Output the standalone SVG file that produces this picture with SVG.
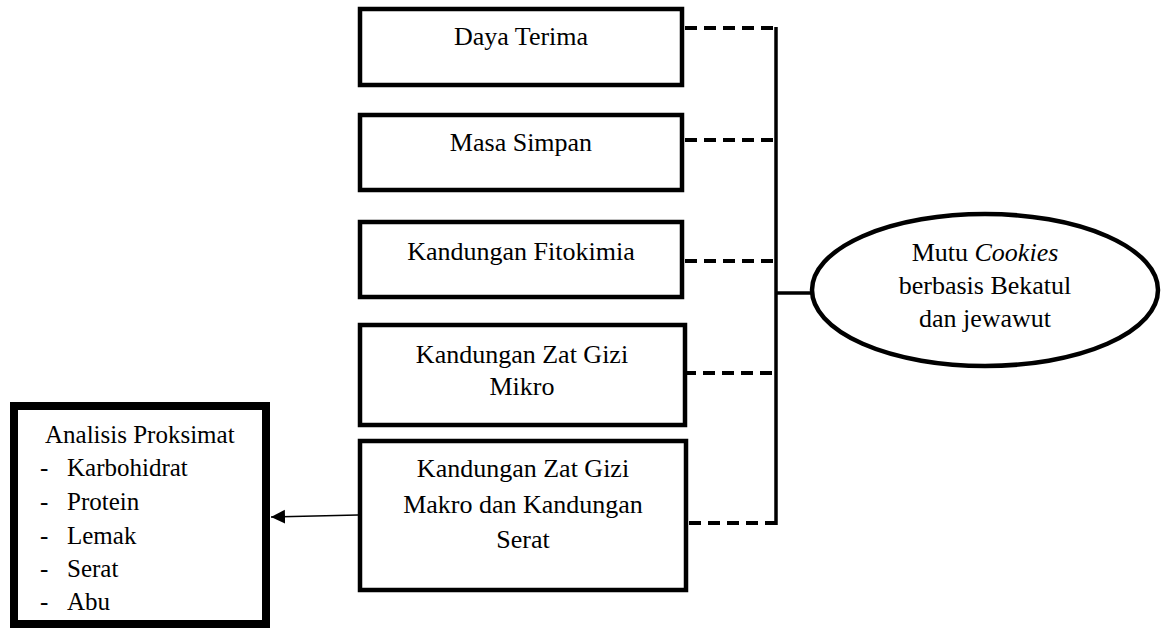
<svg xmlns="http://www.w3.org/2000/svg" width="1167" height="629" viewBox="0 0 1167 629">
<style>
.box{fill:#fff;stroke:#000;stroke-width:4.5}
.lb{fill:#fff;stroke:#000;stroke-width:8}
.t{font-size:26px;fill:#000;text-anchor:middle}
.ts{font-size:25px;fill:#000}
.dash{stroke:#000;stroke-width:4;stroke-dasharray:12 7;fill:none}
.solid{stroke:#000;stroke-width:3.5;fill:none}
</style>
<defs>
<marker id="ah" viewBox="0 0 10 10" refX="10" refY="5" markerWidth="14" markerHeight="15" markerUnits="userSpaceOnUse" orient="auto">
<path d="M0,0 L10,5 L0,10 z" fill="#000"/>
</marker>
</defs>
<g id="connectors">
<line class="solid" x1="776" y1="27" x2="776" y2="525"/>
<line class="solid" x1="776" y1="293" x2="812" y2="293"/>
<line class="dash" x1="685" y1="28" x2="776" y2="28"/>
<line class="dash" x1="685" y1="140" x2="776" y2="140"/>
<line class="dash" x1="685" y1="261" x2="776" y2="261"/>
<line class="dash" x1="684" y1="373" x2="776" y2="373"/>
<line class="dash" x1="689" y1="523" x2="776" y2="523"/>
<line x1="358" y1="515" x2="271" y2="517" stroke="#000" stroke-width="1.6" marker-end="url(#ah)"/>
</g>
<g font-family="'Liberation Serif', 'Times New Roman', Times, serif">
<g id="n1">
<rect class="box" x="360" y="9" width="322" height="76"/>
<text class="t" x="521" y="45">Daya Terima</text>
</g>
<g id="n2">
<rect class="box" x="360" y="115" width="322" height="75"/>
<text class="t" x="521" y="151">Masa Simpan</text>
</g>
<g id="n3">
<rect class="box" x="360" y="222" width="322" height="75"/>
<text class="t" x="521" y="260">Kandungan Fitokimia</text>
</g>
<g id="n4">
<rect class="box" x="360" y="325" width="325" height="100"/>
<text class="t" x="522" y="363">Kandungan Zat Gizi</text>
<text class="t" x="522" y="395">Mikro</text>
</g>
<g id="n5">
<rect class="box" x="360" y="441" width="326" height="149"/>
<text class="t" x="523" y="477">Kandungan Zat Gizi</text>
<text class="t" x="523" y="513">Makro dan Kandungan</text>
<text class="t" x="523" y="548">Serat</text>
</g>
<g id="n6">
<ellipse cx="985" cy="290" rx="173" ry="76" fill="#fff" stroke="#000" stroke-width="4.5"/>
<text class="t" x="985" y="261" font-size="25">Mutu <tspan font-style="italic">Cookies</tspan></text>
<text class="t" x="985" y="294" font-size="25">berbasis Bekatul</text>
<text class="t" x="985" y="327" font-size="25">dan jewawut</text>
</g>
<g id="n7">
<rect class="lb" x="14" y="406" width="252" height="218"/>
<text class="ts" x="45" y="443">Analisis Proksimat</text>
<text class="ts" x="40" y="476">-</text><text class="ts" x="67" y="476">Karbohidrat</text>
<text class="ts" x="40" y="510">-</text><text class="ts" x="67" y="510">Protein</text>
<text class="ts" x="40" y="544">-</text><text class="ts" x="67" y="544">Lemak</text>
<text class="ts" x="40" y="577">-</text><text class="ts" x="67" y="577">Serat</text>
<text class="ts" x="40" y="610">-</text><text class="ts" x="67" y="610">Abu</text>
</g>
</g>
</svg>
